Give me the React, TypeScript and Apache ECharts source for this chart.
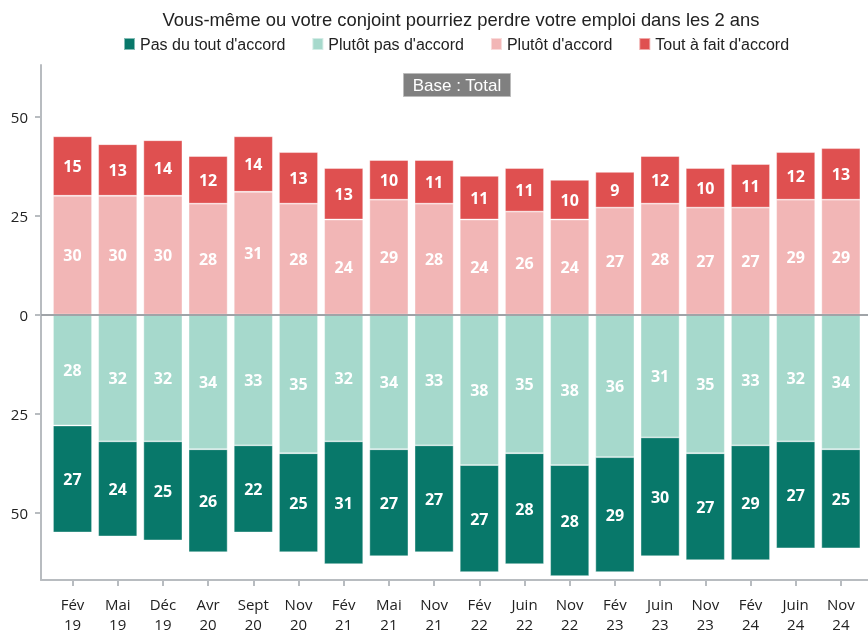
import React, { useEffect, useRef } from "react";
import * as echarts from "echarts";

const categories = [
  "Fév\n19", "Mai\n19", "Déc\n19", "Avr\n20", "Sept\n20", "Nov\n20",
  "Fév\n21", "Mai\n21", "Nov\n21", "Fév\n22", "Juin\n22", "Nov\n22",
  "Fév\n23", "Juin\n23", "Nov\n23", "Fév\n24", "Juin\n24", "Nov\n24",
];
const toutAFait = [15, 13, 14, 12, 14, 13, 13, 10, 11, 11, 11, 10, 9, 12, 10, 11, 12, 13];
const plutotAccord = [30, 30, 30, 28, 31, 28, 24, 29, 28, 24, 26, 24, 27, 28, 27, 27, 29, 29];
const plutotPas = [28, 32, 32, 34, 33, 35, 32, 34, 33, 38, 35, 38, 36, 31, 35, 33, 32, 34];
const pasDuTout = [27, 24, 25, 26, 22, 25, 31, 27, 27, 27, 28, 28, 29, 30, 27, 29, 27, 25];
const yTicks = [-50, -25, 0, 25, 50];

const NARROW = "'Liberation Sans Narrow', 'Arial Narrow', 'Liberation Sans', sans-serif";
const SANS = "'Open Sans', 'Noto Sans', sans-serif";

export default function App() {
  const ref = useRef<HTMLDivElement>(null);
  useEffect(() => {
    if (!ref.current) return;
    const chart = echarts.init(ref.current, undefined, { renderer: "svg" });
    const idx = categories.map((_, i) => i);
    const label = {
      show: true,
      position: "inside",
      color: "#ffffff",
      fontFamily: SANS,
      fontWeight: "bold",
      fontSize: 16,
      formatter: (p: any) => String(Math.abs(p.value[0])),
    };
    const mk = (name: string, vals: number[], color: string, sign: number, extra: any = {}) => ({
      name,
      type: "bar",
      stack: "total",
      barWidth: 39,
      encode: { x: 1, y: 0 },
      data: idx.map((i) => [sign * vals[i], i]),
      itemStyle: { color, borderColor: "rgba(255,255,255,0.5)", borderWidth: 0.8 },
      label,
      ...extra,
    });
    chart.setOption({
      animation: false,
      title: {
        text: "Vous-même ou votre conjoint pourriez perdre votre emploi dans les 2 ans",
        left: 456,
        textAlign: "center",
        top: 5,
        textStyle: { fontFamily: NARROW, fontSize: 18.4, fontWeight: "normal", color: "#222" },
      },
      legend: {
        top: 31,
        left: 118,
        itemWidth: 11,
        itemHeight: 12,
        itemGap: 26,
        icon: "rect",
        data: ["Pas du tout d'accord", "Plutôt pas d'accord", "Plutôt d'accord", "Tout à fait d'accord"],
        textStyle: { fontFamily: NARROW, fontSize: 16, color: "#222" },
      },
      graphic: [
        {
          type: "group",
          left: 403,
          top: 73,
          children: [
            { type: "rect", shape: { x: 0, y: 0, width: 107, height: 23 }, style: { fill: "#808080", stroke: "#bbb", lineWidth: 1 } },
            {
              type: "text",
              x: 53.5,
              y: 11.5,
              style: { text: "Base : Total", fill: "#fff", fontSize: 17, fontFamily: NARROW, align: "center", verticalAlign: "middle" },
            },
          ],
        },
      ],
      grid: { left: 41, right: 0, top: 65, bottom: 52 },
      xAxis: {
        type: "value",
        min: -0.697,
        max: 17.6,
        splitLine: { show: false },
        axisLine: { show: true, onZero: false, lineStyle: { color: "#b8bcc0", width: 2 } },
        axisTick: { show: true, customValues: idx, length: 6, lineStyle: { color: "#b8bcc0", width: 2 } },
        axisLabel: {
          customValues: idx,
          formatter: (v: number) => categories[Math.round(v)] ?? "",
          fontFamily: SANS,
          fontSize: 15,
          color: "#222",
          lineHeight: 20,
          margin: 14,
        },
      },
      yAxis: {
        type: "value",
        min: -67,
        max: 63,
        splitLine: { show: false },
        axisLine: { show: true, onZero: false, lineStyle: { color: "#b8bcc0", width: 2 } },
        axisTick: { show: true, customValues: yTicks, length: 6, lineStyle: { color: "#b8bcc0", width: 2 } },
        axisLabel: {
          customValues: yTicks,
          formatter: (v: number) => String(Math.abs(v)),
          fontFamily: SANS,
          fontSize: 15,
          color: "#222",
          margin: 13,
        },
      },
      series: [
        mk("Plutôt pas d'accord", plutotPas, "#a6d9cc", -1, {
          markLine: {
            silent: true,
            symbol: "none",
            label: { show: false },
            lineStyle: { color: "#a0a4a8", width: 2, type: "solid" },
            data: [{ yAxis: 0 }],
          },
        }),
        mk("Pas du tout d'accord", pasDuTout, "#08786a", -1),
        mk("Plutôt d'accord", plutotAccord, "#f2b6b6", 1),
        mk("Tout à fait d'accord", toutAFait, "#df5050", 1),
      ],
    });
    return () => chart.dispose();
  }, []);
  return <div ref={ref} style={{ position: "fixed", left: 0, top: 0, width: 868, height: 634 }} />;
}
